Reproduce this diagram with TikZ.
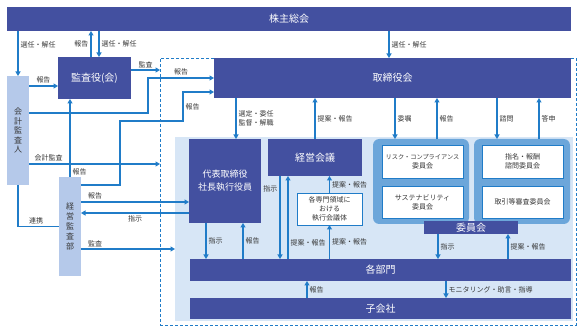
\documentclass[tikz,border=0pt]{standalone}
\usepackage{fontspec}
\setmainfont{Noto Sans CJK JP}
\usepackage{tikz}
\usetikzlibrary{
  arrows.meta
}
\definecolor{BoardNavy}{RGB}{67,80,160}
\definecolor{LinkBlue}{RGB}{32,124,200}
\definecolor{AuditPale}{RGB}{181,201,234}
\definecolor{AreaTint}{RGB}{215,230,246}
\definecolor{GroupBlue}{RGB}{108,166,218}
\definecolor{LabelGray}{RGB}{55,55,55}
\tikzset{
  navybox/.style={
    fill=BoardNavy,
    text=white,
    inner sep=0pt,
    outer sep=0pt,
    align=center,
    font=\fontsize{10}{12}\selectfont
  },
  palebox/.style={fill=AuditPale,text=LabelGray,inner sep=0pt,outer sep=0pt,align=center},
  groupbox/.style={fill=GroupBlue,rounded corners=2.2mm,inner sep=0pt,outer sep=0pt},
  whitebox/.style={
    fill=white,
    draw=LinkBlue,
    line width=0.8pt,
    inner sep=0pt,
    outer sep=0pt,
    align=center,
    text=LabelGray,
    font=\fontsize{7}{9}\selectfont
  },
  areabox/.style={inner sep=0pt,outer sep=0pt},
  arrow/.style={-{Triangle[length=4.5pt,width=5pt]},line width=1.1pt,draw=LinkBlue},
  plainline/.style={line width=1.1pt,draw=LinkBlue},
  lbl/.style={font=\fontsize{7}{8.5}\selectfont,text=LabelGray,inner sep=2pt}
}

\begin{document}
\begin{tikzpicture}[x=1pt,y=-1pt]
  \useasboundingbox (0,0) rectangle (582,334);

  % areas
  \node[areabox, draw=LinkBlue, dashed, dash pattern=on 3pt off 2pt, line width=0.9pt,
        minimum width=416pt, minimum height=267pt, anchor=north west] (governance) at (160,58) {};
  \node[areabox, fill=AreaTint, minimum width=398pt, minimum height=184pt, anchor=north west] (execarea) at (175,137) {};

  % boxes
  \node[navybox, minimum width=564pt, minimum height=24pt, anchor=north west] (shareholders) at (7,7) {株主総会};
  \node[palebox, minimum width=22pt, minimum height=109pt, anchor=north west,
        font=\fontsize{8}{9.5}\selectfont] (accountant) at (7,76) {会\\計\\監\\査\\人};
  \node[navybox, minimum width=73pt, minimum height=42pt, anchor=north west] (auditboard) at (58,57) {監査役(会)};
  \node[palebox, minimum width=22pt, minimum height=99pt, anchor=north west,
        font=\fontsize{8}{10}\selectfont] (auditdept) at (59,177) {経\\営\\監\\査\\部};
  \node[navybox, minimum width=357pt, minimum height=40pt, anchor=north west] (board) at (214,58) {取締役会};
  \node[navybox, minimum width=72pt, minimum height=84pt, anchor=north west,
        font=\fontsize{9}{13}\selectfont] (ceo) at (189,139) {代表取締役\\社長執行役員};
  \node[navybox, minimum width=94pt, minimum height=37pt, anchor=north west] (mgmt) at (268,139) {経営会議};
  \node[whitebox, minimum width=65pt, minimum height=32pt, anchor=north west] (expert) at (297,193) {各専門領域に\\おける\\執行会議体};

  \node[groupbox, minimum width=96pt, minimum height=85pt, anchor=north west] (riskgrp) at (373,139) {};
  \node[groupbox, minimum width=96pt, minimum height=85pt, anchor=north west] (nomgrp) at (474,139) {};
  \node[whitebox, minimum width=81pt, minimum height=33pt, anchor=north west] (riskcom) at (382,145)
    {{\fontsize{6.2}{8}\selectfont リスク・コンプライアンス}\\委員会};
  \node[whitebox, minimum width=81pt, minimum height=32pt, anchor=north west] (suscom) at (382,186) {サステナビリティ\\委員会};
  \node[whitebox, minimum width=81pt, minimum height=33pt, anchor=north west] (nomcom) at (482,145) {指名・報酬\\諮問委員会};
  \node[whitebox, minimum width=81pt, minimum height=32pt, anchor=north west] (reviewcom) at (482,186) {取引等審査委員会};
  \node[navybox, minimum width=94pt, minimum height=13pt, anchor=north west] (committees) at (424,221) {委員会};

  \node[navybox, minimum width=381pt, minimum height=22pt, anchor=north west] (divisions) at (190,259) {各部門};
  \node[navybox, minimum width=381pt, minimum height=21pt, anchor=north west] (subsidiaries) at (190,298) {子会社};

  % shareholders, auditors
  \draw[arrow] (shareholders.south -| accountant.north) -- node[lbl,right,pos=0.3]{選任・解任} (accountant.north);
  \draw[arrow] ([xshift=-3.5pt]auditboard.north) -- node[lbl,left]{報告} ([xshift=-3.5pt]auditboard.north |- shareholders.south);
  \draw[arrow] ([xshift=4.5pt]auditboard.north |- shareholders.south) -- node[lbl,right]{選任・解任} ([xshift=4.5pt]auditboard.north);
  \draw[arrow] ([xshift=-3.5pt]board.north |- shareholders.south) -- node[lbl,right]{選任・解任} ([xshift=-3.5pt]board.north);

  \draw[arrow] ([yshift=-8pt]accountant.east |- auditboard.west) -- node[lbl,above]{報告} ([yshift=-8pt]auditboard.west);
  \draw[arrow] ([yshift=8pt]auditboard.east) -- node[lbl,above]{監査} ([yshift=8pt]auditboard.east -| governance.west);
  \draw[arrow] ([yshift=17.5pt]accountant.east) -| ([xshift=-66pt]board.west) -- node[lbl,above]{報告} (board.west);
  \draw[arrow] ([yshift=-33.5pt]accountant.east) -- node[lbl,above,pos=0.15]{会計監査} ([yshift=-33.5pt]accountant.east -| governance.west);
  \draw[plainline] (accountant.south) |- node[lbl,above,pos=0.72]{連携} (auditdept.west);

  % audit department
  \draw[arrow] (auditdept.north) -- node[lbl,right,pos=0.07]{報告} (auditdept.north |- auditboard.south);
  \draw[arrow] ([yshift=41.5pt]auditdept.east) -- ++(39,0) |- ++(63,-64)
    |- node[lbl,right,pos=0.25]{報告} ([yshift=-14pt]board.west);
  \draw[arrow] ([yshift=24.5pt]auditdept.east) -- node[lbl,above,pos=0.13]{報告} ([yshift=24.5pt]auditdept.east -| ceo.west);
  \draw[arrow] ([yshift=13.5pt]auditdept.east -| ceo.west) -- node[lbl,below]{指示} ([yshift=13.5pt]auditdept.east);
  \draw[arrow] ([yshift=-22.5pt]auditdept.east) -- node[lbl,above,pos=0.15]{監査} ([yshift=-22.5pt]auditdept.east -| execarea.west);

  % board
  \draw[arrow] ([xshift=11pt]ceo.north |- board.south) -- node[lbl,right,align=left]{選定・委任\\監督・解職} ([xshift=11pt]ceo.north);
  \draw[arrow] (mgmt.north) -- node[lbl,right]{提案・報告} (mgmt.north |- board.south);
  \draw[arrow] ([xshift=-26pt]riskgrp.north |- board.south) -- node[lbl,right]{委嘱} ([xshift=-26pt]riskgrp.north);
  \draw[arrow] ([xshift=16pt]riskgrp.north) -- node[lbl,right]{報告} ([xshift=16pt]riskgrp.north |- board.south);
  \draw[arrow] ([xshift=-25pt]nomgrp.north |- board.south) -- node[lbl,right]{諮問} ([xshift=-25pt]nomgrp.north);
  \draw[arrow] ([xshift=17pt]nomgrp.north) -- node[lbl,right]{答申} ([xshift=17pt]nomgrp.north |- board.south);

  % execution
  \draw[arrow] ([xshift=-19pt]ceo.south) -- node[lbl,right]{指示} ([xshift=-19pt]ceo.south |- divisions.north);
  \draw[arrow] ([xshift=18pt]ceo.south |- divisions.north) -- node[lbl,right]{報告} ([xshift=18pt]ceo.south);
  \draw[arrow] ([xshift=12pt]mgmt.south west) -- node[lbl,left,pos=0.16]{指示} ([xshift=12pt]mgmt.south west |- divisions.north);
  \draw[arrow] ([xshift=20pt]mgmt.south west |- divisions.north) -- node[lbl,right,pos=0.19]{提案・報告} ([xshift=20pt]mgmt.south west);
  \draw[arrow] (expert.north) -- node[lbl,right]{提案・報告} (expert.north |- mgmt.south);
  \draw[arrow] (expert.south |- divisions.north) -- node[lbl,right]{提案・報告} (expert.south);
  \draw[arrow] ([xshift=-33pt]committees.south) -- node[lbl,right]{指示} ([xshift=-33pt]committees.south |- divisions.north);
  \draw[arrow] ([xshift=37pt]committees.south |- divisions.north) -- node[lbl,right]{提案・報告} ([xshift=37pt]committees.south);
  \draw[arrow] ([xshift=-73.5pt]subsidiaries.north) -- node[lbl,right]{報告} ([xshift=-73.5pt]divisions.south);
  \draw[arrow] ([xshift=65.5pt]divisions.south) -- node[lbl,right]{モニタリング・助言・指導} ([xshift=65.5pt]subsidiaries.north);
\end{tikzpicture}
\end{document}
